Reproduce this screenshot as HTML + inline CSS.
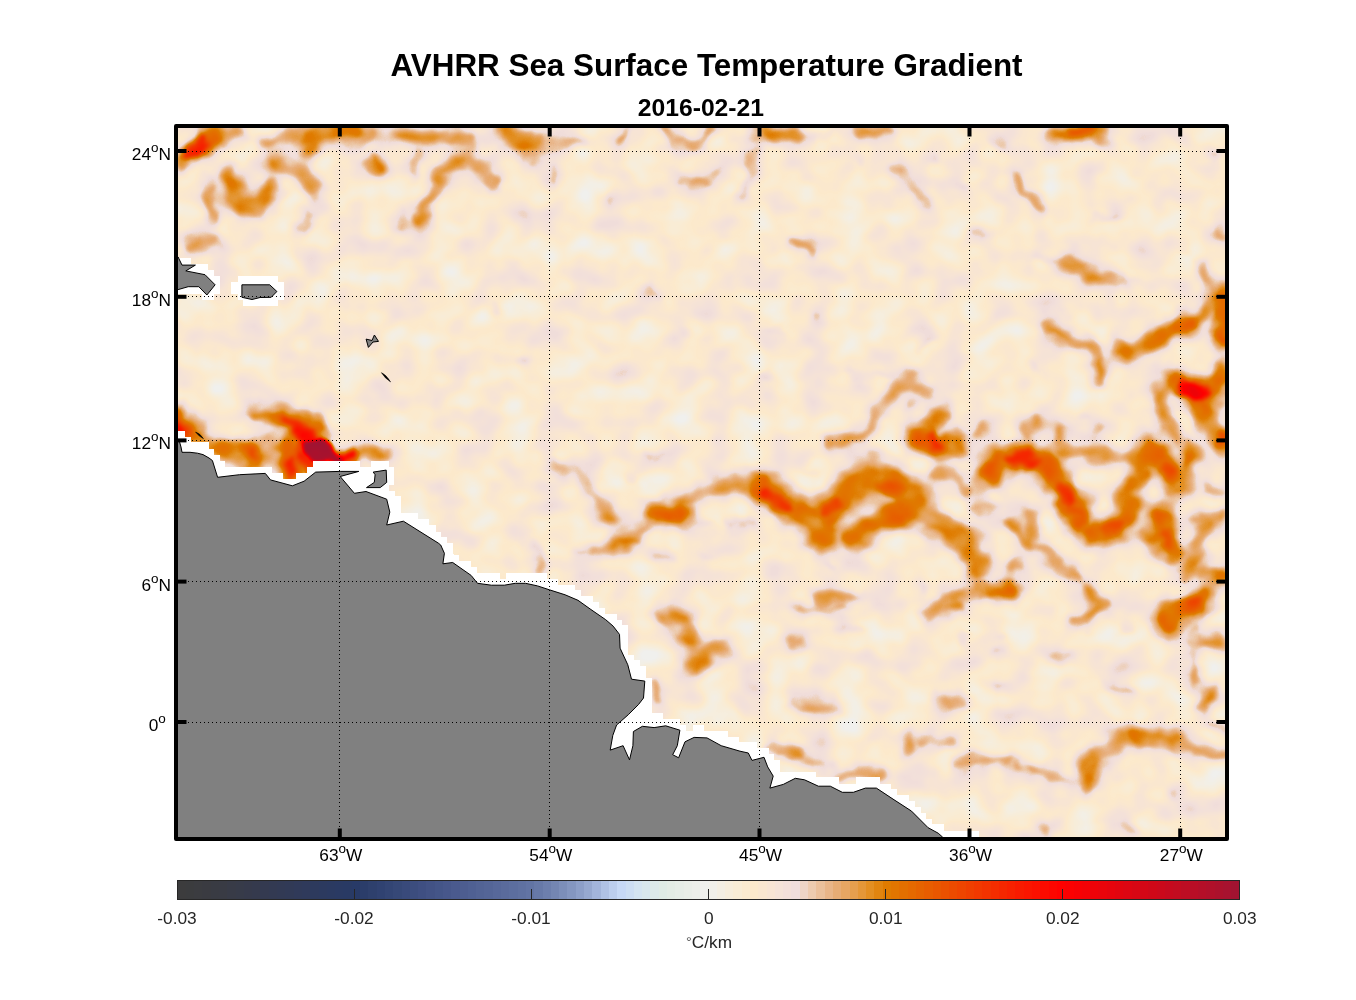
<!DOCTYPE html>
<html lang="en">
<head>
<meta charset="utf-8">
<title>AVHRR Sea Surface Temperature Gradient</title>
<style>
html,body{margin:0;padding:0;background:#fff;}
body{width:1356px;height:1000px;overflow:hidden;position:relative;font-family:"Liberation Sans",Arial,Helvetica,sans-serif;}
svg{position:absolute;left:0;top:0;display:block;}
svg.txt{will-change:transform;}
text{font-family:"Liberation Sans",Arial,Helvetica,sans-serif;}
</style>
</head>
<body>
<svg width="1356" height="1000" viewBox="0 0 1356 1000">
<defs>
<clipPath id="mapclip"><rect x="176" y="126" width="1051" height="713"/></clipPath>
<filter id="bs" filterUnits="userSpaceOnUse" x="150" y="100" width="1104" height="766" color-interpolation-filters="sRGB"><feGaussianBlur stdDeviation="1.5"/></filter>
<filter id="bm" filterUnits="userSpaceOnUse" x="150" y="100" width="1104" height="766" color-interpolation-filters="sRGB"><feGaussianBlur stdDeviation="2.8"/></filter>
<filter id="bl" filterUnits="userSpaceOnUse" x="150" y="100" width="1104" height="766" color-interpolation-filters="sRGB"><feGaussianBlur stdDeviation="5.0"/></filter>
<filter id="cmap" filterUnits="userSpaceOnUse" x="170" y="120" width="1064" height="726" color-interpolation-filters="sRGB">
<feTurbulence type="fractalNoise" baseFrequency="0.03 0.034" numOctaves="2" seed="11" result="n"/>
<feColorMatrix in="n" type="matrix" values="0.25 0 0 0 -0.038  0.25 0 0 0 -0.038  0.25 0 0 0 -0.038  0 0 0 0 1" result="n2"/>
<feTurbulence type="fractalNoise" baseFrequency="0.045 0.05" numOctaves="2" seed="5" result="d"/>
<feDisplacementMap in="SourceGraphic" in2="d" scale="14" xChannelSelector="R" yChannelSelector="G" result="disp0"/>
<feGaussianBlur in="disp0" stdDeviation="1" result="disp"/>
<feComposite in="disp" in2="n2" operator="arithmetic" k1="0" k2="1" k3="1" k4="0" result="sum"/>
<feComponentTransfer in="sum">
<feFuncR type="table" tableValues="0.9412 0.9526 0.9641 0.9743 0.9837 0.9912 0.9818 0.9724 0.9620 0.9509 0.9403 0.9329 0.9255 0.9176 0.9098 0.9059 0.9020 0.8961 0.8902 0.8843 0.8784 0.8847 0.8910 0.8973 0.9035 0.9098 0.9161 0.9224 0.9286 0.9349 0.9412 0.9475 0.9537 0.9600 0.9663 0.9725 0.9780 0.9835 0.9890 0.9945 1.0000 0.9820 0.9639 0.9459 0.9278 0.9098 0.8910 0.8722 0.8533 0.8345 0.8157 0.7969 0.7780 0.7592 0.7404 0.7216 0.7027 0.6839 0.6651 0.6463 0.6275"/>
<feFuncG type="table" tableValues="0.9412 0.9379 0.9346 0.9296 0.9233 0.9167 0.9073 0.8979 0.8884 0.8789 0.8657 0.8250 0.7843 0.7373 0.6902 0.6627 0.6353 0.6039 0.5725 0.5294 0.4863 0.4612 0.4361 0.4110 0.3859 0.3608 0.3357 0.3106 0.2855 0.2604 0.2353 0.2102 0.1851 0.1600 0.1349 0.1098 0.0878 0.0659 0.0439 0.0220 0.0000 0.0031 0.0063 0.0094 0.0125 0.0157 0.0188 0.0220 0.0251 0.0282 0.0314 0.0361 0.0408 0.0455 0.0502 0.0549 0.0596 0.0643 0.0690 0.0737 0.0784"/>
<feFuncB type="table" tableValues="0.9333 0.9039 0.8745 0.8467 0.8201 0.7978 0.8151 0.8323 0.8459 0.8569 0.8549 0.7569 0.6588 0.5804 0.5020 0.4235 0.3451 0.2510 0.1569 0.0784 0.0000 0.0000 0.0000 0.0000 0.0000 0.0000 0.0000 0.0000 0.0000 0.0000 0.0000 0.0000 0.0000 0.0000 0.0000 0.0000 0.0000 0.0000 0.0000 0.0000 0.0000 0.0094 0.0188 0.0282 0.0376 0.0471 0.0565 0.0659 0.0753 0.0847 0.0941 0.1051 0.1161 0.1271 0.1380 0.1490 0.1584 0.1678 0.1773 0.1867 0.1961"/>
</feComponentTransfer>
</filter>
</defs>

<!-- SST gradient field -->
<g clip-path="url(#mapclip)">
<g filter="url(#cmap)">
<g fill="none" stroke-linecap="round" stroke-linejoin="round" style="isolation:isolate">
<rect x="170" y="120" width="1064" height="726" fill="#000"/>
<g filter="url(#bl)" stroke="#0f0f0f" style="mix-blend-mode:lighten"><polyline points="402.2,220.5 403.4,227.0" stroke-width="12.1"/>
<polyline points="651.5,287.6 656.6,297.9" stroke-width="13.5"/>
<polyline points="814.1,314.7 815.4,317.3" stroke-width="12.1"/>
<polyline points="767.6,332.8 783.1,328.9" stroke-width="10.8"/>
<polyline points="682.5,330.2 692.8,334.1" stroke-width="10.8"/>
<polyline points="608.9,197.3 607.6,202.4" stroke-width="9.4"/>
<polyline points="858.0,158.6 860.6,163.7" stroke-width="10.8"/>
<polyline points="894.4,170.2 908.6,181.8 921.5,194.7" stroke-width="17.5"/>
<polyline points="957.6,185.7 967.9,187.0" stroke-width="10.8"/>
<polyline points="685.0,519.9 710.9,525.0" stroke-width="14.8"/>
<polyline points="765.1,372.7 770.2,376.6" stroke-width="17.5"/>
<polyline points="628.3,479.9 638.6,483.7" stroke-width="10.8"/>
<polyline points="643.7,451.5 659.2,454.8" stroke-width="10.8"/>
<polyline points="808.9,470.8 819.3,472.1" stroke-width="9.4"/>
<polyline points="703.1,555.5 710.9,555.5" stroke-width="9.4"/>
<polyline points="1215.7,494.1 1225.0,486.3" stroke-width="12.1"/>
<polyline points="803.8,762.5 821.9,765.0" stroke-width="12.1"/></g>
<g filter="url(#bl)" stroke="#131313" style="mix-blend-mode:lighten"><polyline points="349.0,142.7 366.7,136.8" stroke-width="14.8"/>
<polyline points="529.9,151.5 537.2,163.3" stroke-width="12.1"/>
<polyline points="403.0,216.4 402.3,223.8" stroke-width="13.5"/>
<polyline points="552.0,169.2 553.5,181.0" stroke-width="9.4"/>
<polyline points="495.1,307.0 493.8,310.9" stroke-width="10.8"/>
<polyline points="518.3,359.9 525.0,361.2" stroke-width="10.8"/>
<polyline points="525.0,156.0 535.3,153.4" stroke-width="13.5"/>
<polyline points="553.4,144.4 581.8,140.5" stroke-width="14.8"/>
<polyline points="619.2,140.5 628.3,130.2" stroke-width="13.5"/>
<polyline points="798.6,136.6 829.6,135.3" stroke-width="13.5"/>
<polyline points="705.7,181.8 718.6,171.5" stroke-width="9.4"/>
<polyline points="753.4,153.4 752.2,174.0 741.8,194.7" stroke-width="16.1"/>
<polyline points="988.6,141.8 1004.1,145.7" stroke-width="12.1"/>
<polyline points="931.8,153.4 937.0,161.1" stroke-width="12.1"/>
<polyline points="921.5,197.3 929.2,201.1" stroke-width="14.8"/>
<polyline points="973.1,230.8 983.4,233.4" stroke-width="14.8"/>
<polyline points="1094.4,215.3 1115.1,219.2" stroke-width="12.1"/>
<polyline points="921.5,347.0 930.5,338.0" stroke-width="12.1"/>
<polyline points="1208.0,154.7 1213.2,158.6" stroke-width="13.5"/>
<polyline points="1036.8,256.8 1050.1,260.5 1064.9,259.7" stroke-width="9.4"/>
<polyline points="1112.1,289.2 1110.6,301.0" stroke-width="9.4"/>
<polyline points="1184.3,250.9 1193.2,251.6" stroke-width="8.1"/>
<polyline points="1064.9,317.3 1069.3,317.6" stroke-width="8.1"/>
<polyline points="1030.9,367.4 1036.8,371.8" stroke-width="9.4"/>
<polyline points="848.6,372.4 864.9,376.8 875.2,373.8 892.9,375.3" stroke-width="9.4"/>
<polyline points="909.1,400.4 916.5,404.1" stroke-width="10.8"/>
<polyline points="872.2,456.4 889.9,455.3 907.6,465.3" stroke-width="10.8"/>
<polyline points="1097.3,367.9 1098.8,382.7" stroke-width="12.1"/>
<polyline points="1036.8,416.6 1033.9,428.4" stroke-width="14.8"/>
<polyline points="1081.1,414.9 1088.5,414.0" stroke-width="9.4"/>
<polyline points="1098.8,429.9 1092.9,435.8" stroke-width="10.8"/>
<polyline points="1219.7,409.2 1224.9,403.3" stroke-width="10.8"/>
<polyline points="981.4,572.8 979.9,581.7" stroke-width="12.1"/>
<polyline points="839.8,627.4 851.6,628.9 861.9,631.1" stroke-width="10.8"/>
<polyline points="963.7,637.7 969.6,633.3" stroke-width="10.8"/>
<polyline points="999.1,635.5 1002.0,637.0" stroke-width="9.4"/>
<polyline points="1119.4,627.4 1126.8,628.2" stroke-width="10.8"/>
<polyline points="1193.2,629.6 1200.6,628.2" stroke-width="9.4"/>
<polyline points="726.3,523.0 752.2,521.2" stroke-width="16.1"/>
<polyline points="532.7,543.1 539.2,556.0 540.5,568.9" stroke-width="14.8"/>
<polyline points="656.6,556.0 669.6,556.5" stroke-width="12.1"/>
<polyline points="571.5,549.6 589.5,549.6" stroke-width="9.4"/>
<polyline points="827.0,563.8 834.8,568.9" stroke-width="10.8"/>
<polyline points="918.9,584.4 921.5,592.2" stroke-width="9.4"/>
<polyline points="790.9,646.3 801.2,642.4" stroke-width="13.5"/>
<polyline points="842.5,628.2 858.0,629.5" stroke-width="12.1"/>
<polyline points="962.8,638.6 969.2,634.7" stroke-width="10.8"/>
<polyline points="993.7,654.0 1001.5,648.9" stroke-width="9.4"/>
<polyline points="1050.5,656.6 1060.9,660.5 1073.8,654.0" stroke-width="9.4"/>
<polyline points="1107.3,685.0 1130.5,688.9" stroke-width="13.5"/>
<polyline points="1120.2,626.9 1130.5,629.5" stroke-width="12.1"/>
<polyline points="908.6,731.5 906.5,749.6" stroke-width="13.5"/>
<polyline points="924.0,741.3 952.4,739.2" stroke-width="14.8"/>
<polyline points="1014.4,759.4 1019.6,767.6" stroke-width="10.8"/>
<polyline points="1040.2,825.7 1050.5,827.0 1046.7,834.7" stroke-width="9.4"/>
<polyline points="1122.8,824.4 1133.1,829.1" stroke-width="8.1"/>
<polyline points="1171.9,794.7 1177.0,795.5" stroke-width="9.4"/>
<polyline points="875.0,772.8 882.7,776.7" stroke-width="10.8"/>
<polyline points="819.3,774.2 826.7,771.5" stroke-width="10.8"/></g>
<g filter="url(#bl)" stroke="#161616" style="mix-blend-mode:lighten"><polyline points="219.2,138.3 231.0,133.8 241.4,130.9" stroke-width="18.9"/>
<polyline points="208.9,184.0 207.4,207.6 214.8,226.8" stroke-width="16.1"/>
<polyline points="301.8,228.2 307.7,219.4" stroke-width="14.8"/>
<polyline points="549.0,142.7 575.0,141.2" stroke-width="14.8"/>
<polyline points="417.8,154.5 416.3,170.7" stroke-width="18.9"/>
<polyline points="525.0,137.9 537.9,143.1" stroke-width="18.9"/>
<polyline points="679.9,177.9 695.4,183.1 705.7,183.1" stroke-width="14.8"/>
<polyline points="1220.9,228.3 1223.5,238.6" stroke-width="13.5"/>
<polyline points="1200.6,264.2 1205.0,274.5 1212.4,287.8" stroke-width="13.5"/>
<polyline points="910.6,382.7 919.4,388.6 929.8,394.5" stroke-width="17.5"/>
<polyline points="975.5,433.1 982.9,425.8" stroke-width="12.1"/>
<polyline points="931.2,474.1 948.9,471.5 960.7,480.8 963.7,494.8" stroke-width="14.8"/>
<polyline points="1059.0,426.9 1061.9,447.6" stroke-width="13.5"/>
<polyline points="1205.0,487.4 1219.7,491.8" stroke-width="13.5"/>
<polyline points="975.5,507.9 990.2,507.9" stroke-width="13.5"/>
<polyline points="1098.8,609.7 1087.0,617.8 1078.1,623.7" stroke-width="16.1"/>
<polyline points="270.0,437.4 259.8,445.9" stroke-width="16.1"/>
<polyline points="553.4,463.1 574.0,468.3 592.1,486.3 605.0,509.6 607.6,517.3" stroke-width="20.2"/>
<polyline points="793.5,704.4 816.7,707.0 837.3,709.5" stroke-width="16.1"/>
<polyline points="935.7,699.2 949.9,702.6 964.1,701.8" stroke-width="17.5"/>
<polyline points="993.7,688.9 1001.5,688.1" stroke-width="9.4"/>
<polyline points="1032.5,767.6 1055.7,775.9 1073.8,783.1" stroke-width="14.8"/>
<polyline points="1171.9,739.7 1195.1,749.6 1225.0,754.7" stroke-width="16.1"/>
<polyline points="1191.2,647.6 1210.6,643.7 1225.0,643.2" stroke-width="10.8"/>
<polyline points="907.8,733.7 908.1,750.3" stroke-width="13.5"/>
<polyline points="935.4,741.1 950.2,740.7" stroke-width="14.8"/></g>
<g filter="url(#bl)" stroke="#1a1a1a" style="mix-blend-mode:lighten"><polyline points="266.4,144.9 287.1,135.6 304.8,130.9" stroke-width="21.6"/>
<polyline points="276.8,165.6 294.5,167.8 306.3,179.6 315.1,189.9" stroke-width="27.0"/>
<polyline points="281.2,158.9 293.0,161.9" stroke-width="10.0"/>
<polyline points="365.3,164.8 375.0,169.2" stroke-width="21.6"/>
<polyline points="375.0,160.4 380.9,169.2" stroke-width="20.2"/>
<polyline points="664.4,128.9 676.0,140.5 690.2,144.4 703.1,140.5 707.0,128.9" stroke-width="16.1"/>
<polyline points="858.0,130.2 875.0,132.7" stroke-width="13.5"/>
<polyline points="792.2,242.4 802.5,247.6 808.9,254.1" stroke-width="16.1"/>
<polyline points="875.0,132.7 887.9,129.6" stroke-width="14.8"/>
<polyline points="1014.4,177.9 1027.3,192.1 1042.8,207.6" stroke-width="17.5"/>
<polyline points="1044.2,324.6 1057.5,333.5 1075.2,339.4 1089.9,345.3" stroke-width="16.1"/>
<polyline points="1091.4,346.8 1097.3,357.1 1098.8,371.8 1097.3,385.0" stroke-width="16.1"/>
<polyline points="1218.3,363.0 1225.6,357.1" stroke-width="10.8"/>
<polyline points="828.0,442.0 842.7,440.2 861.9,435.8 876.7,421.0 887.0,399.7 897.3,384.9 909.9,379.0" stroke-width="18.2"/>
<polyline points="937.1,453.5 941.6,460.9 950.4,455.7 960.7,447.6" stroke-width="14.8"/>
<polyline points="1024.9,424.0 1028.0,435.8" stroke-width="12.1"/>
<polyline points="1018.3,561.0 1012.4,569.9" stroke-width="14.8"/>
<polyline points="1032.4,543.3 1045.7,547.0 1057.5,561.0 1066.3,572.8 1076.7,580.2" stroke-width="16.1"/>
<polyline points="1087.0,591.3 1098.8,601.6 1105.4,606.0" stroke-width="17.5"/>
<polyline points="1197.6,519.7 1212.4,516.8 1224.9,513.8" stroke-width="16.1"/>
<polyline points="225.9,456.1 242.8,461.1" stroke-width="16.1"/>
<polyline points="594.7,551.4 612.8,544.4 633.4,536.7 646.3,527.6 659.2,516.0" stroke-width="17.5"/>
<polyline points="679.9,505.7 703.1,492.8 726.3,483.7 744.4,480.6 757.3,483.7" stroke-width="17.5"/>
<polyline points="654.1,685.0 657.9,701.8" stroke-width="14.8"/>
<polyline points="798.6,608.9 821.9,608.1 845.1,607.1" stroke-width="14.8"/>
<polyline points="770.2,745.7 785.7,750.1 798.6,754.7" stroke-width="16.1"/>
<polyline points="834.8,774.1 855.4,774.1 875.0,770.7" stroke-width="16.1"/>
<polyline points="926.6,612.2 944.7,608.1 961.5,607.1" stroke-width="14.8"/>
<polyline points="1075.1,621.8 1089.2,612.7 1107.3,605.0" stroke-width="16.1"/>
<polyline points="955.0,763.0 983.4,760.9 1009.2,757.8" stroke-width="14.8"/>
<polyline points="1191.2,654.0 1193.8,672.1 1196.4,682.4" stroke-width="14.8"/>
<polyline points="1200.2,710.8 1210.6,695.3 1214.4,687.6" stroke-width="16.1"/>
<polyline points="1208.0,723.7 1225.0,729.4" stroke-width="14.8"/>
<polyline points="771.3,748.4 786.1,750.6 800.8,754.0" stroke-width="14.8"/>
<polyline points="839.6,776.5 861.7,773.3 880.1,772.8" stroke-width="14.8"/>
<polyline points="955.7,762.8 972.3,761.3 990.0,761.3" stroke-width="14.8"/></g>
<g filter="url(#bl)" stroke="#1d1d1d" style="mix-blend-mode:lighten"><polyline points="186.8,249.6 200.1,243.0 212.6,238.6" stroke-width="21.6"/>
<polyline points="404.5,133.8 422.2,138.0 441.4,136.8 457.6,135.6 469.4,139.7" stroke-width="24.2"/>
<polyline points="438.4,170.7 451.7,164.8 469.4,159.2 481.2,166.3 487.1,176.6 495.2,184.0" stroke-width="22.9"/>
<polyline points="439.9,173.7 434.0,188.4 427.4,201.7 422.2,213.5 417.8,222.3" stroke-width="18.9"/>
<polyline points="1066.3,260.5 1076.7,268.6 1089.9,276.3 1107.6,278.2 1123.9,280.4" stroke-width="24.7"/>
<polyline points="975.5,487.4 984.3,497.7" stroke-width="8.0"/>
<polyline points="1169.6,390.1 1161.5,396.0 1163.7,412.2 1172.5,426.9 1177.0,438.7" stroke-width="24.7"/>
<polyline points="1061.9,451.3 1087.0,452.0 1101.7,452.0 1119.4,457.9 1134.2,459.4" stroke-width="24.7"/>
<polyline points="929.8,614.1 940.1,603.8 953.4,595.3 966.6,590.3" stroke-width="16.8"/>
<polyline points="1009.4,522.7 1018.3,531.5 1025.6,543.3" stroke-width="21.3"/>
<polyline points="1029.5,513.8 1033.9,530.1 1030.9,543.3" stroke-width="21.3"/>
<polyline points="1184.3,575.8 1193.2,564.0 1199.1,549.2 1200.6,534.5 1205.0,521.2" stroke-width="24.7"/>
<polyline points="1202.0,574.3 1219.7,576.1 1224.9,574.3" stroke-width="21.3"/>
<polyline points="1202.0,645.0 1219.7,642.2" stroke-width="19.6"/>
<polyline points="816.7,600.4 834.8,596.0 852.8,594.7" stroke-width="23.0"/>
<polyline points="978.3,509.6 986.0,499.2" stroke-width="10.0"/>
<polyline points="665.7,621.0 679.9,617.4 686.3,630.8 694.1,643.7" stroke-width="23.0"/>
<polyline points="721.2,645.0 709.6,650.2 703.1,657.9 694.1,664.9" stroke-width="26.4"/></g>
<g filter="url(#bm)" stroke="#1d1d1d" style="mix-blend-mode:lighten"><polyline points="402.2,220.5 403.4,227.0" stroke-width="4.8"/>
<polyline points="651.5,287.6 656.6,297.9" stroke-width="5.6"/>
<polyline points="814.1,314.7 815.4,317.3" stroke-width="4.8"/>
<polyline points="767.6,332.8 783.1,328.9" stroke-width="4.0"/>
<polyline points="682.5,330.2 692.8,334.1" stroke-width="4.0"/>
<polyline points="608.9,197.3 607.6,202.4" stroke-width="3.2"/>
<polyline points="858.0,158.6 860.6,163.7" stroke-width="4.0"/>
<polyline points="894.4,170.2 908.6,181.8 921.5,194.7" stroke-width="8.0"/>
<polyline points="957.6,185.7 967.9,187.0" stroke-width="4.0"/>
<polyline points="685.0,519.9 710.9,525.0" stroke-width="6.4"/>
<polyline points="765.1,372.7 770.2,376.6" stroke-width="8.0"/>
<polyline points="628.3,479.9 638.6,483.7" stroke-width="4.0"/>
<polyline points="643.7,451.5 659.2,454.8" stroke-width="4.0"/>
<polyline points="808.9,470.8 819.3,472.1" stroke-width="3.2"/>
<polyline points="703.1,555.5 710.9,555.5" stroke-width="3.2"/>
<polyline points="1215.7,494.1 1225.0,486.3" stroke-width="4.8"/>
<polyline points="803.8,762.5 821.9,765.0" stroke-width="4.8"/></g>
<g filter="url(#bl)" stroke="#202020" style="mix-blend-mode:lighten"><polyline points="324.0,130.2 341.7,129.1" stroke-width="16.2"/>
<polyline points="229.6,177.4 233.3,193.6 242.1,204.6 253.9,207.6 264.2,198.0 273.1,186.9" stroke-width="28.1"/>
<polyline points="761.2,130.2 778.0,135.3 798.6,136.6" stroke-width="24.7"/>
<polyline points="1053.1,134.0 1078.9,132.2 1102.2,131.5" stroke-width="26.4"/>
<polyline points="1118.0,348.2 1131.2,353.4 1146.0,346.8 1160.7,336.4 1172.5,325.4 1190.2,324.6 1205.0,314.3 1213.8,301.0 1219.7,290.7" stroke-width="26.4"/>
<polyline points="1187.3,444.6 1191.7,456.4 1187.3,471.2 1181.4,483.0" stroke-width="21.3"/>
<polyline points="1141.6,472.7 1134.2,483.0 1128.3,497.7 1122.4,505.0" stroke-width="26.4"/>
<polyline points="922.4,513.1 946.0,525.6 960.7,537.4 969.6,547.8 977.0,558.1 979.9,569.9" stroke-width="32.7"/>
<polyline points="1144.5,534.5 1160.7,538.2" stroke-width="23.0"/>
<polyline points="179.2,418.7 193.7,433.2 214.0,445.9 234.4,451.0 249.6,455.2" stroke-width="26.4"/>
<polyline points="612.8,543.6 633.4,537.4" stroke-width="17.9"/>
<polyline points="674.7,616.6 683.8,619.2" stroke-width="23.2"/>
<polyline points="1084.6,785.7 1086.2,766.3 1099.6,752.7 1120.2,741.8 1143.5,736.6 1171.9,739.7" stroke-width="24.7"/></g>
<g filter="url(#bm)" stroke="#202020" style="mix-blend-mode:lighten"><polyline points="349.0,142.7 366.7,136.8" stroke-width="6.4"/>
<polyline points="552.0,169.2 553.5,181.0" stroke-width="3.2"/>
<polyline points="495.1,307.0 493.8,310.9" stroke-width="4.0"/>
<polyline points="518.3,359.9 525.0,361.2" stroke-width="4.0"/>
<polyline points="525.0,156.0 535.3,153.4" stroke-width="5.6"/>
<polyline points="798.6,136.6 829.6,135.3" stroke-width="5.6"/>
<polyline points="988.6,141.8 1004.1,145.7" stroke-width="4.8"/>
<polyline points="931.8,153.4 937.0,161.1" stroke-width="4.8"/>
<polyline points="1094.4,215.3 1115.1,219.2" stroke-width="4.8"/>
<polyline points="1208.0,154.7 1213.2,158.6" stroke-width="5.6"/>
<polyline points="1036.8,256.8 1050.1,260.5 1064.9,259.7" stroke-width="3.2"/>
<polyline points="1112.1,289.2 1110.6,301.0" stroke-width="3.2"/>
<polyline points="1184.3,250.9 1193.2,251.6" stroke-width="2.4"/>
<polyline points="1064.9,317.3 1069.3,317.6" stroke-width="2.4"/>
<polyline points="1030.9,367.4 1036.8,371.8" stroke-width="3.2"/>
<polyline points="848.6,372.4 864.9,376.8 875.2,373.8 892.9,375.3" stroke-width="3.2"/>
<polyline points="872.2,456.4 889.9,455.3 907.6,465.3" stroke-width="4.0"/>
<polyline points="1219.7,409.2 1224.9,403.3" stroke-width="4.0"/>
<polyline points="839.8,627.4 851.6,628.9 861.9,631.1" stroke-width="4.0"/>
<polyline points="999.1,635.5 1002.0,637.0" stroke-width="3.2"/>
<polyline points="1119.4,627.4 1126.8,628.2" stroke-width="4.0"/>
<polyline points="1193.2,629.6 1200.6,628.2" stroke-width="3.2"/>
<polyline points="656.6,556.0 669.6,556.5" stroke-width="4.8"/>
<polyline points="571.5,549.6 589.5,549.6" stroke-width="3.2"/>
<polyline points="827.0,563.8 834.8,568.9" stroke-width="4.0"/>
<polyline points="842.5,628.2 858.0,629.5" stroke-width="4.8"/>
<polyline points="962.8,638.6 969.2,634.7" stroke-width="4.0"/>
<polyline points="993.7,654.0 1001.5,648.9" stroke-width="3.2"/>
<polyline points="1050.5,656.6 1060.9,660.5 1073.8,654.0" stroke-width="3.2"/>
<polyline points="1107.3,685.0 1130.5,688.9" stroke-width="5.6"/>
<polyline points="1120.2,626.9 1130.5,629.5" stroke-width="4.8"/>
<polyline points="1122.8,824.4 1133.1,829.1" stroke-width="2.4"/>
<polyline points="1171.9,794.7 1177.0,795.5" stroke-width="3.2"/>
<polyline points="819.3,774.2 826.7,771.5" stroke-width="4.0"/></g>
<g filter="url(#bl)" stroke="#242424" style="mix-blend-mode:lighten"><polyline points="307.7,147.1 316.6,135.3 329.9,130.2 352.0,130.2" stroke-width="30.8"/>
<polyline points="504.8,133.1 516.6,138.3 529.9,140.5" stroke-width="32.7"/>
<polyline points="923.9,427.7 932.7,424.0 943.0,414.4" stroke-width="25.1"/>
<polyline points="1197.6,401.9 1205.0,424.0 1219.7,434.3 1224.9,441.7" stroke-width="28.9"/>
<polyline points="1134.2,459.4 1144.5,453.5 1160.7,459.4 1169.6,474.1 1175.5,483.0" stroke-width="34.6"/>
<polyline points="872.2,478.6 889.9,481.5 904.7,491.8 916.5,505.0" stroke-width="40.3"/>
<polyline points="850.1,538.9 861.9,530.1 876.7,521.2 894.4,513.8 913.5,510.2" stroke-width="36.5"/>
<polyline points="978.4,587.9 994.7,590.5 1009.4,590.3" stroke-width="27.0"/>
<polyline points="1094.4,535.2 1113.5,527.1 1128.3,515.3 1131.2,505.0" stroke-width="34.6"/>
<polyline points="1160.7,513.8 1163.7,527.1 1166.6,540.4 1174.0,555.1" stroke-width="32.7"/>
<polyline points="1168.1,621.5 1169.6,611.2 1182.9,606.8 1193.2,601.6 1205.0,595.0" stroke-width="30.8"/>
<polyline points="337.8,455.7 354.8,454.4 370.0,454.7 381.1,456.4" stroke-width="21.3"/>
<polyline points="757.3,486.3 775.4,497.9 796.0,510.8 814.1,519.9 821.9,535.4" stroke-width="40.3"/>
<polyline points="825.7,519.9 833.5,505.7 847.7,491.0 868.3,481.7" stroke-width="40.3"/>
<polyline points="1086.7,772.8 1094.4,757.3" stroke-width="25.1"/></g>
<g filter="url(#bm)" stroke="#242424" style="mix-blend-mode:lighten"><polyline points="219.2,138.3 231.0,133.8 241.4,130.9" stroke-width="8.8"/>
<polyline points="529.9,151.5 537.2,163.3" stroke-width="4.8"/>
<polyline points="403.0,216.4 402.3,223.8" stroke-width="5.6"/>
<polyline points="553.4,144.4 581.8,140.5" stroke-width="6.4"/>
<polyline points="619.2,140.5 628.3,130.2" stroke-width="5.6"/>
<polyline points="705.7,181.8 718.6,171.5" stroke-width="3.2"/>
<polyline points="753.4,153.4 752.2,174.0 741.8,194.7" stroke-width="7.2"/>
<polyline points="921.5,197.3 929.2,201.1" stroke-width="6.4"/>
<polyline points="973.1,230.8 983.4,233.4" stroke-width="6.4"/>
<polyline points="921.5,347.0 930.5,338.0" stroke-width="4.8"/>
<polyline points="909.1,400.4 916.5,404.1" stroke-width="4.0"/>
<polyline points="1097.3,367.9 1098.8,382.7" stroke-width="4.8"/>
<polyline points="1036.8,416.6 1033.9,428.4" stroke-width="6.4"/>
<polyline points="1081.1,414.9 1088.5,414.0" stroke-width="3.2"/>
<polyline points="1098.8,429.9 1092.9,435.8" stroke-width="4.0"/>
<polyline points="981.4,572.8 979.9,581.7" stroke-width="4.8"/>
<polyline points="963.7,637.7 969.6,633.3" stroke-width="4.0"/>
<polyline points="553.4,463.1 574.0,468.3 592.1,486.3 605.0,509.6 607.6,517.3" stroke-width="9.6"/>
<polyline points="726.3,523.0 752.2,521.2" stroke-width="7.2"/>
<polyline points="532.7,543.1 539.2,556.0 540.5,568.9" stroke-width="6.4"/>
<polyline points="918.9,584.4 921.5,592.2" stroke-width="3.2"/>
<polyline points="790.9,646.3 801.2,642.4" stroke-width="5.6"/>
<polyline points="793.5,704.4 816.7,707.0 837.3,709.5" stroke-width="7.2"/>
<polyline points="935.7,699.2 949.9,702.6 964.1,701.8" stroke-width="8.0"/>
<polyline points="908.6,731.5 906.5,749.6" stroke-width="5.6"/>
<polyline points="924.0,741.3 952.4,739.2" stroke-width="6.4"/>
<polyline points="1014.4,759.4 1019.6,767.6" stroke-width="4.0"/>
<polyline points="1032.5,767.6 1055.7,775.9 1073.8,783.1" stroke-width="6.4"/>
<polyline points="1040.2,825.7 1050.5,827.0 1046.7,834.7" stroke-width="3.2"/>
<polyline points="875.0,772.8 882.7,776.7" stroke-width="4.0"/>
<polyline points="907.8,733.7 908.1,750.3" stroke-width="5.6"/></g>
<g filter="url(#bl)" stroke="#272727" style="mix-blend-mode:lighten"><polyline points="919.4,438.7 935.7,446.1 954.8,444.6" stroke-width="34.6"/>
<polyline points="991.2,474.7 1004.1,459.2 1024.7,456.6" stroke-width="36.5"/>
<polyline points="1028.0,456.4 1042.7,459.4 1053.1,471.2 1061.9,487.4 1069.3,497.7 1076.7,505.0" stroke-width="34.6"/>
<polyline points="1175.5,380.5 1191.7,391.5 1207.9,385.6 1219.7,373.8" stroke-width="34.6"/>
<polyline points="828.0,521.2 833.2,510.9" stroke-width="32.7"/>
<polyline points="1064.9,505.0 1075.2,510.9 1079.6,522.7" stroke-width="32.7"/>
<polyline points="249.6,451.0 256.4,456.1 254.7,462.8" stroke-width="30.8"/>
<polyline points="254.7,413.3 270.0,416.7 290.3,418.7 305.6,421.3 315.8,429.8" stroke-width="23.2"/>
<polyline points="654.1,510.8 677.3,514.2" stroke-width="28.9"/>
<polyline points="1166.7,621.8 1182.2,608.9 1200.2,605.0" stroke-width="28.9"/>
<polyline points="1133.1,737.2 1156.4,737.2" stroke-width="21.3"/></g>
<g filter="url(#bm)" stroke="#272727" style="mix-blend-mode:lighten"><polyline points="301.8,228.2 307.7,219.4" stroke-width="6.4"/>
<polyline points="549.0,142.7 575.0,141.2" stroke-width="6.4"/>
<polyline points="525.0,137.9 537.9,143.1" stroke-width="8.8"/>
<polyline points="1220.9,228.3 1223.5,238.6" stroke-width="5.6"/>
<polyline points="1200.6,264.2 1205.0,274.5 1212.4,287.8" stroke-width="5.6"/>
<polyline points="910.6,382.7 919.4,388.6 929.8,394.5" stroke-width="8.0"/>
<polyline points="975.5,433.1 982.9,425.8" stroke-width="4.8"/>
<polyline points="1059.0,426.9 1061.9,447.6" stroke-width="5.6"/>
<polyline points="1205.0,487.4 1219.7,491.8" stroke-width="5.6"/>
<polyline points="975.5,507.9 990.2,507.9" stroke-width="5.6"/>
<polyline points="270.0,437.4 259.8,445.9" stroke-width="7.2"/>
<polyline points="993.7,688.9 1001.5,688.1" stroke-width="3.2"/>
<polyline points="1171.9,739.7 1195.1,749.6 1225.0,754.7" stroke-width="7.2"/>
<polyline points="1191.2,647.6 1210.6,643.7 1225.0,643.2" stroke-width="4.0"/>
<polyline points="935.4,741.1 950.2,740.7" stroke-width="6.4"/></g>
<g filter="url(#bl)" stroke="#2b2b2b" style="mix-blend-mode:lighten"><polyline points="285.2,445.9 289.5,461.1 290.3,476.4" stroke-width="32.7"/></g>
<g filter="url(#bm)" stroke="#2b2b2b" style="mix-blend-mode:lighten"><polyline points="208.9,184.0 207.4,207.6 214.8,226.8" stroke-width="7.2"/>
<polyline points="417.8,154.5 416.3,170.7" stroke-width="8.8"/>
<polyline points="664.4,128.9 676.0,140.5 690.2,144.4 703.1,140.5 707.0,128.9" stroke-width="7.2"/>
<polyline points="858.0,130.2 875.0,132.7" stroke-width="5.6"/>
<polyline points="679.9,177.9 695.4,183.1 705.7,183.1" stroke-width="6.4"/>
<polyline points="792.2,242.4 802.5,247.6 808.9,254.1" stroke-width="7.2"/>
<polyline points="875.0,132.7 887.9,129.6" stroke-width="6.4"/>
<polyline points="1044.2,324.6 1057.5,333.5 1075.2,339.4 1089.9,345.3" stroke-width="7.2"/>
<polyline points="1218.3,363.0 1225.6,357.1" stroke-width="4.0"/>
<polyline points="931.2,474.1 948.9,471.5 960.7,480.8 963.7,494.8" stroke-width="6.4"/>
<polyline points="1024.9,424.0 1028.0,435.8" stroke-width="4.8"/>
<polyline points="1018.3,561.0 1012.4,569.9" stroke-width="6.4"/>
<polyline points="1032.4,543.3 1045.7,547.0 1057.5,561.0 1066.3,572.8 1076.7,580.2" stroke-width="7.2"/>
<polyline points="1098.8,609.7 1087.0,617.8 1078.1,623.7" stroke-width="7.2"/>
<polyline points="225.9,456.1 242.8,461.1" stroke-width="7.2"/>
<polyline points="594.7,551.4 612.8,544.4 633.4,536.7 646.3,527.6 659.2,516.0" stroke-width="8.0"/>
<polyline points="679.9,505.7 703.1,492.8 726.3,483.7 744.4,480.6 757.3,483.7" stroke-width="8.0"/>
<polyline points="654.1,685.0 657.9,701.8" stroke-width="6.4"/>
<polyline points="798.6,608.9 821.9,608.1 845.1,607.1" stroke-width="6.4"/>
<polyline points="834.8,774.1 855.4,774.1 875.0,770.7" stroke-width="7.2"/>
<polyline points="926.6,612.2 944.7,608.1 961.5,607.1" stroke-width="6.4"/>
<polyline points="1191.2,654.0 1193.8,672.1 1196.4,682.4" stroke-width="6.4"/>
<polyline points="1208.0,723.7 1225.0,729.4" stroke-width="6.4"/>
<polyline points="839.6,776.5 861.7,773.3 880.1,772.8" stroke-width="6.4"/></g>
<g filter="url(#bl)" stroke="#2e2e2e" style="mix-blend-mode:lighten"><polyline points="1219.7,295.1 1223.4,315.8 1222.0,339.4" stroke-width="25.1"/>
<polyline points="177.5,420.4 185.2,428.9" stroke-width="32.7"/></g>
<g filter="url(#bm)" stroke="#2e2e2e" style="mix-blend-mode:lighten"><polyline points="266.4,144.9 287.1,135.6 304.8,130.9" stroke-width="10.4"/>
<polyline points="276.8,165.6 294.5,167.8 306.3,179.6 315.1,189.9" stroke-width="13.6"/>
<polyline points="365.3,164.8 375.0,169.2" stroke-width="10.4"/>
<polyline points="828.0,442.0 842.7,440.2 861.9,435.8 876.7,421.0 887.0,399.7 897.3,384.9 909.9,379.0" stroke-width="8.4"/>
<polyline points="1087.0,591.3 1098.8,601.6 1105.4,606.0" stroke-width="8.0"/>
<polyline points="770.2,745.7 785.7,750.1 798.6,754.7" stroke-width="7.2"/>
<polyline points="955.0,763.0 983.4,760.9 1009.2,757.8" stroke-width="6.4"/>
<polyline points="1200.2,710.8 1210.6,695.3 1214.4,687.6" stroke-width="7.2"/>
<polyline points="955.7,762.8 972.3,761.3 990.0,761.3" stroke-width="6.4"/></g>
<g filter="url(#bm)" stroke="#313131" style="mix-blend-mode:lighten"><polyline points="186.8,249.6 200.1,243.0 212.6,238.6" stroke-width="10.4"/>
<polyline points="404.5,133.8 422.2,138.0 441.4,136.8 457.6,135.6 469.4,139.7" stroke-width="12.0"/>
<polyline points="375.0,160.4 380.9,169.2" stroke-width="9.6"/>
<polyline points="438.4,170.7 451.7,164.8 469.4,159.2 481.2,166.3 487.1,176.6 495.2,184.0" stroke-width="11.2"/>
<polyline points="439.9,173.7 434.0,188.4 427.4,201.7 422.2,213.5 417.8,222.3" stroke-width="8.8"/>
<polyline points="1014.4,177.9 1027.3,192.1 1042.8,207.6" stroke-width="8.0"/>
<polyline points="1091.4,346.8 1097.3,357.1 1098.8,371.8 1097.3,385.0" stroke-width="7.2"/>
<polyline points="937.1,453.5 941.6,460.9 950.4,455.7 960.7,447.6" stroke-width="6.4"/>
<polyline points="929.8,614.1 940.1,603.8 953.4,595.3 966.6,590.3" stroke-width="7.6"/>
<polyline points="1197.6,519.7 1212.4,516.8 1224.9,513.8" stroke-width="7.2"/>
<polyline points="1075.1,621.8 1089.2,612.7 1107.3,605.0" stroke-width="7.2"/>
<polyline points="771.3,748.4 786.1,750.6 800.8,754.0" stroke-width="6.4"/></g>
<g filter="url(#bm)" stroke="#353535" style="mix-blend-mode:lighten"><polyline points="490.0,181.0 497.4,185.5" stroke-width="11.7"/>
<polyline points="1066.3,260.5 1076.7,268.6 1089.9,276.3 1107.6,278.2 1123.9,280.4" stroke-width="12.1"/>
<polyline points="1169.6,390.1 1161.5,396.0 1163.7,412.2 1172.5,426.9 1177.0,438.7" stroke-width="12.1"/>
<polyline points="1061.9,451.3 1087.0,452.0 1101.7,452.0 1119.4,457.9 1134.2,459.4" stroke-width="12.1"/>
<polyline points="1009.4,522.7 1018.3,531.5 1025.6,543.3" stroke-width="9.9"/>
<polyline points="1029.5,513.8 1033.9,530.1 1030.9,543.3" stroke-width="9.9"/>
<polyline points="1184.3,575.8 1193.2,564.0 1199.1,549.2 1200.6,534.5 1205.0,521.2" stroke-width="12.1"/>
<polyline points="1202.0,574.3 1219.7,576.1 1224.9,574.3" stroke-width="9.9"/>
<polyline points="1202.0,645.0 1219.7,642.2" stroke-width="8.8"/>
<polyline points="816.7,600.4 834.8,596.0 852.8,594.7" stroke-width="11.0"/>
<polyline points="665.7,621.0 679.9,617.4 686.3,630.8 694.1,643.7" stroke-width="11.0"/>
<polyline points="721.2,645.0 709.6,650.2 703.1,657.9 694.1,664.9" stroke-width="13.2"/></g>
<g filter="url(#bl)" stroke="#383838" style="mix-blend-mode:lighten"><polyline points="301.4,429.8 309.0,440.8 315.8,451.0" stroke-width="32.7"/>
<polyline points="303.9,451.0 309.0,466.2" stroke-width="30.8"/></g>
<g filter="url(#bm)" stroke="#383838" style="mix-blend-mode:lighten"><polyline points="1144.5,534.5 1160.7,538.2" stroke-width="11.0"/>
<polyline points="1084.6,785.7 1086.2,766.3 1099.6,752.7 1120.2,741.8 1143.5,736.6 1171.9,739.7" stroke-width="12.1"/></g>
<g filter="url(#bm)" stroke="#3c3c3c" style="mix-blend-mode:lighten"><polyline points="324.0,130.2 341.7,129.1" stroke-width="6.6"/>
<polyline points="229.6,177.4 233.3,193.6 242.1,204.6 253.9,207.6 264.2,198.0 273.1,186.9" stroke-width="14.3"/>
<polyline points="761.2,130.2 778.0,135.3 798.6,136.6" stroke-width="12.1"/>
<polyline points="1053.1,134.0 1078.9,132.2 1102.2,131.5" stroke-width="13.2"/>
<polyline points="1118.0,348.2 1131.2,353.4 1146.0,346.8 1160.7,336.4 1172.5,325.4 1190.2,324.6 1205.0,314.3 1213.8,301.0 1219.7,290.7" stroke-width="13.2"/>
<polyline points="1187.3,444.6 1191.7,456.4 1187.3,471.2 1181.4,483.0" stroke-width="9.9"/>
<polyline points="1141.6,472.7 1134.2,483.0 1128.3,497.7 1122.4,505.0" stroke-width="13.2"/>
<polyline points="922.4,513.1 946.0,525.6 960.7,537.4 969.6,547.8 977.0,558.1 979.9,569.9" stroke-width="18.2"/>
<polyline points="179.2,418.7 193.7,433.2 214.0,445.9 234.4,451.0 249.6,455.2" stroke-width="13.2"/>
<polyline points="612.8,543.6 633.4,537.4" stroke-width="7.7"/>
<polyline points="674.7,616.6 683.8,619.2" stroke-width="11.2"/></g>
<g filter="url(#bm)" stroke="#3f3f3f" style="mix-blend-mode:lighten"><polyline points="307.7,147.1 316.6,135.3 329.9,130.2 352.0,130.2" stroke-width="16.8"/>
<polyline points="504.8,133.1 516.6,138.3 529.9,140.5" stroke-width="18.2"/>
<polyline points="923.9,427.7 932.7,424.0 943.0,414.4" stroke-width="12.6"/>
<polyline points="850.1,538.9 861.9,530.1 876.7,521.2 894.4,513.8 913.5,510.2" stroke-width="21.0"/>
<polyline points="978.4,587.9 994.7,590.5 1009.4,590.3" stroke-width="14.0"/>
<polyline points="825.7,519.9 833.5,505.7 847.7,491.0 868.3,481.7" stroke-width="23.8"/>
<polyline points="1086.7,772.8 1094.4,757.3" stroke-width="12.6"/></g>
<g filter="url(#bl)" stroke="#424242" style="mix-blend-mode:lighten"><polyline points="180.9,161.9 197.1,145.6 216.3,132.4" stroke-width="20.0"/></g>
<g filter="url(#bm)" stroke="#424242" style="mix-blend-mode:lighten"><polyline points="1197.6,401.9 1205.0,424.0 1219.7,434.3 1224.9,441.7" stroke-width="15.4"/>
<polyline points="1134.2,459.4 1144.5,453.5 1160.7,459.4 1169.6,474.1 1175.5,483.0" stroke-width="19.6"/>
<polyline points="872.2,478.6 889.9,481.5 904.7,491.8 916.5,505.0" stroke-width="23.8"/>
<polyline points="1094.4,535.2 1113.5,527.1 1128.3,515.3 1131.2,505.0" stroke-width="19.6"/>
<polyline points="1160.7,513.8 1163.7,527.1 1166.6,540.4 1174.0,555.1" stroke-width="18.2"/>
<polyline points="1168.1,621.5 1169.6,611.2 1182.9,606.8 1193.2,601.6 1205.0,595.0" stroke-width="16.8"/>
<polyline points="337.8,455.7 354.8,454.4 370.0,454.7 381.1,456.4" stroke-width="9.8"/>
<polyline points="757.3,486.3 775.4,497.9 796.0,510.8 814.1,519.9 821.9,535.4" stroke-width="23.8"/></g>
<g filter="url(#bm)" stroke="#464646" style="mix-blend-mode:lighten"><polyline points="991.2,474.7 1004.1,459.2 1024.7,456.6" stroke-width="21.0"/>
<polyline points="828.0,521.2 833.2,510.9" stroke-width="18.2"/>
<polyline points="249.6,451.0 256.4,456.1 254.7,462.8" stroke-width="16.8"/>
<polyline points="254.7,413.3 270.0,416.7 290.3,418.7 305.6,421.3 315.8,429.8" stroke-width="11.2"/>
<polyline points="654.1,510.8 677.3,514.2" stroke-width="15.4"/>
<polyline points="1133.1,737.2 1156.4,737.2" stroke-width="9.8"/></g>
<g filter="url(#bm)" stroke="#494949" style="mix-blend-mode:lighten"><polyline points="1174.0,325.4 1191.7,323.9" stroke-width="10.4"/>
<polyline points="919.4,438.7 935.7,446.1 954.8,444.6" stroke-width="19.6"/>
<polyline points="1028.0,456.4 1042.7,459.4 1053.1,471.2 1061.9,487.4 1069.3,497.7 1076.7,505.0" stroke-width="19.6"/>
<polyline points="1175.5,380.5 1191.7,391.5 1207.9,385.6 1219.7,373.8" stroke-width="19.6"/>
<polyline points="857.5,533.8 870.8,525.6" stroke-width="10.4"/>
<polyline points="1064.9,505.0 1075.2,510.9 1079.6,522.7" stroke-width="18.2"/>
<polyline points="1166.7,621.8 1182.2,608.9 1200.2,605.0" stroke-width="15.4"/></g>
<g filter="url(#bm)" stroke="#4d4d4d" style="mix-blend-mode:lighten"><polyline points="990.2,590.5 1000.6,590.5" stroke-width="7.8"/>
<polyline points="285.2,445.9 289.5,461.1 290.3,476.4" stroke-width="18.2"/></g>
<g filter="url(#bm)" stroke="#535353" style="mix-blend-mode:lighten"><polyline points="1219.7,295.1 1223.4,315.8 1222.0,339.4" stroke-width="12.6"/></g>
<g filter="url(#bm)" stroke="#575757" style="mix-blend-mode:lighten"><polyline points="1071.2,130.2 1091.8,129.6" stroke-width="7.8"/>
<polyline points="884.0,484.5 897.3,490.4" stroke-width="11.7"/>
<polyline points="177.5,420.4 185.2,428.9" stroke-width="18.2"/>
<polyline points="252.2,455.2 255.6,458.6" stroke-width="7.8"/></g>
<g filter="url(#bm)" stroke="#5a5a5a" style="mix-blend-mode:lighten"><polyline points="1070.8,507.2 1075.9,512.4" stroke-width="9.1"/>
<polyline points="1163.0,534.5 1168.1,543.3" stroke-width="10.4"/>
<polyline points="827.0,510.8 834.8,504.4" stroke-width="10.4"/></g>
<g filter="url(#bm)" stroke="#5e5e5e" style="mix-blend-mode:lighten"><polyline points="1107.6,530.1 1119.4,523.4" stroke-width="10.4"/>
<polyline points="1185.8,606.0 1197.6,600.1" stroke-width="9.1"/></g>
<g filter="url(#bm)" stroke="#616161" style="mix-blend-mode:lighten"><polyline points="191.2,150.1 198.6,144.2" stroke-width="6.5"/>
<polyline points="1165.2,471.2 1172.5,478.6" stroke-width="10.4"/>
<polyline points="828.7,510.9 832.4,507.2" stroke-width="9.1"/></g>
<g filter="url(#bm)" stroke="#646464" style="mix-blend-mode:lighten"><polyline points="301.4,429.8 309.0,440.8 315.8,451.0" stroke-width="18.2"/>
<polyline points="303.9,451.0 309.0,466.2" stroke-width="16.8"/></g>
<g filter="url(#bm)" stroke="#6b6b6b" style="mix-blend-mode:lighten"><polyline points="1028.0,456.2 1036.8,457.2" stroke-width="10.4"/>
<polyline points="1219.7,435.8 1224.9,440.2" stroke-width="7.8"/>
<polyline points="281.9,420.8 297.1,423.5 309.0,431.0" stroke-width="7.8"/></g>
<g filter="url(#bm)" stroke="#727272" style="mix-blend-mode:lighten"><polyline points="765.1,492.8 785.7,504.4" stroke-width="11.7"/></g>
<g filter="url(#bm)" stroke="#757575" style="mix-blend-mode:lighten"><polyline points="931.2,431.4 937.1,446.9 944.5,446.1" stroke-width="9.1"/>
<polyline points="1061.9,490.4 1070.8,500.7" stroke-width="10.4"/>
<polyline points="292.0,462.8 291.2,476.4" stroke-width="10.4"/></g>
<g filter="url(#bm)" stroke="#7c7c7c" style="mix-blend-mode:lighten"><polyline points="186.8,154.5 195.6,146.4 203.0,140.5" stroke-width="11.7"/></g>
<g filter="url(#bm)" stroke="#808080" style="mix-blend-mode:lighten"><polyline points="177.5,424.7 181.8,428.9" stroke-width="9.1"/>
<polyline points="305.6,459.5 309.0,466.2" stroke-width="10.4"/></g>
<g filter="url(#bm)" stroke="#868686" style="mix-blend-mode:lighten"><polyline points="1011.8,459.2 1029.9,457.4" stroke-width="11.7"/></g>
<g filter="url(#bm)" stroke="#8d8d8d" style="mix-blend-mode:lighten"><polyline points="303.9,434.0 310.7,444.2 324.3,451.0" stroke-width="14.3"/></g>
<g filter="url(#bm)" stroke="#979797" style="mix-blend-mode:lighten"><polyline points="1185.8,388.6 1197.6,392.3" stroke-width="15.6"/></g>
<g filter="url(#bm)" stroke="#a2a2a2" style="mix-blend-mode:lighten"><polyline points="338.7,457.1 352.2,455.5" stroke-width="9.1"/></g>
<g filter="url(#bs)" stroke="#ececec" style="mix-blend-mode:lighten"><polygon points="305.9,445.9 319.2,440.5 327.6,445.9 339.2,457.1 339.2,461.1 313.2,461.1 309.0,454.4" fill="#ececec" stroke-width="1.5"/></g>
</g>
</g>

<!-- missing-data buffer along coast -->
<g fill="#fff" stroke="none" shape-rendering="crispEdges">
<polygon points="178.1,430.8 185.3,430.8 185.3,437.3 190.5,437.3 190.5,442.4 208.6,442.4 208.6,448.9 213.7,448.9 213.7,455.3 220.2,455.3 220.2,461.0 225.3,461.0 225.3,467.0 271.8,467.0 271.8,472.9 283.4,472.9 283.4,478.6 296.3,478.6 296.3,472.9 306.6,472.9 306.6,467.0 313.1,467.0 313.1,461.0 359.6,461.0 359.6,467.0 371.2,467.0 371.2,461.0 389.2,461.0 389.2,467.0 394.4,467.0 394.4,485.0 389.0,485.0 389.0,490.5 394.9,490.5 394.9,496.4 400.9,496.4 400.9,513.4 417.6,513.4 417.6,519.4 429.3,519.4 429.3,525.0 435.7,525.0 435.7,531.5 440.9,531.5 440.9,536.7 447.3,536.7 447.3,543.1 452.5,543.1 453.6,555.1 459.1,555.1 459.1,560.7 471.1,560.7 471.1,567.1 476.6,567.1 476.6,572.7 499.7,572.7 499.7,578.6 505.8,578.6 505.8,572.7 546.7,572.7 546.7,578.6 557.7,578.6 557.7,584.6 575.3,584.6 575.3,590.2 581.3,590.2 581.3,596.3 593.1,596.3 593.1,602.2 599.2,602.2 599.2,607.7 604.8,607.7 604.8,613.6 616.7,613.6 616.7,619.7 622.3,619.7 622.3,625.2 628.2,625.2 628.2,654.7 634.3,654.7 634.3,660.2 639.8,660.2 639.8,666.3 645.9,666.3 645.9,678.1 651.8,678.1 652.0,713.4 663.1,713.4 663.1,718.6 679.9,718.6 679.9,725.0 686.3,725.0 686.3,731.0 692.8,731.0 692.8,725.0 704.4,725.0 704.4,731.0 727.6,731.0 727.6,736.6 739.2,736.6 739.2,742.3 756.6,742.5 756.6,748.1 768.6,748.1 768.6,754.0 774.1,754.0 774.1,760.1 780.2,760.1 780.2,771.5 815.6,771.5 815.6,777.4 839.2,777.4 839.2,783.5 856.2,783.5 856.2,777.4 879.6,777.4 879.6,783.5 891.2,783.5 891.2,789.0 897.1,789.0 897.1,794.9 908.7,794.9 908.7,801.0 914.6,801.0 914.6,806.5 920.7,806.5 920.7,812.6 926.2,812.6 926.2,818.5 932.1,818.5 932.1,824.4 943.7,824.4 943.7,830.5 978.8,830.5 978.8,837.3 978.8,839.0 176.0,839.0 176.0,430.8"/>
<polygon points="175.8,257.9 190.6,257.9 190.6,264.0 208.2,264.0 208.2,269.9 213.9,269.9 213.9,275.9 219.9,275.9 219.9,293.9 213.9,293.9 213.9,299.8 202.1,299.8 202.1,293.9 175.8,293.9"/>
<polygon points="237.6,276.2 278.1,276.2 278.1,282.2 284.1,282.2 284.1,299.8 278.1,299.8 278.1,305.9 243.3,305.9 243.3,299.8 237.6,299.8 237.6,293.9 231.4,293.9 231.4,282.2 237.6,282.2"/>
</g>

<!-- land -->
<g fill="#808080" stroke="#000" stroke-width="1" stroke-linejoin="miter">
<polygon points="176.0,437.5 179.3,441.0 181.0,447.0 182.0,452.3 190.0,452.3 197.5,453.2 203.0,454.6 209.0,458.0 212.4,460.5 217.6,477.3 239.5,474.7 265.3,473.4 270.5,479.9 292.4,485.8 304.1,481.2 315.7,472.1 340.2,471.4 358.8,471.4 340.2,476.5 354.4,493.3 366.0,491.5 386.7,499.2 389.8,512.1 386.7,525.0 403.4,521.2 438.3,543.1 440.7,545.0 444.4,553.3 442.9,563.8 452.7,562.5 471.1,575.4 477.5,583.3 491.4,585.2 504.3,585.2 515.3,583.3 525.5,583.3 537.5,585.9 549.4,589.8 565.1,594.8 578.0,600.3 590.9,609.5 605.7,619.7 613.1,626.1 619.5,634.4 620.1,648.2 627.8,664.8 631.5,679.2 644.8,681.1 643.5,698.0 638.6,704.4 628.3,714.7 616.6,725.0 612.8,735.4 610.2,750.1 623.1,745.7 629.5,759.9 632.9,745.7 633.4,731.5 642.4,726.3 654.1,727.6 665.7,725.8 679.9,730.2 677.3,745.7 672.7,754.7 678.6,757.8 685.0,741.8 694.1,737.4 707.0,737.9 721.2,745.7 740.0,751.2 748.3,753.0 752.0,760.4 764.0,757.3 767.7,766.9 773.2,776.1 769.9,788.1 783.3,784.4 795.3,778.3 804.5,779.8 818.4,786.2 830.3,786.2 842.3,792.3 853.4,792.3 865.4,788.1 876.4,788.1 893.0,799.1 911.5,811.1 928.1,827.7 938.2,833.2 942.8,837.3 942.8,839.0 176.0,839.0 176.0,437.5"/>
<polygon points="175.8,257.0 178.1,257.0 182.0,265.1 195.4,265.1 185.8,270.9 205.0,274.7 215.1,284.8 206.9,295.0 198.8,286.7 188.2,286.7 178.1,289.6 175.8,289.6"/>
<polygon points="241.9,284.8 269.7,284.8 276.9,291.5 271.2,297.3 260.1,297.5 252.0,299.5 241.9,297.3"/>
<polygon points="373.2,472.1 386.2,470.1 386.7,482.4 380.2,487.6 366.5,487.6 374.3,482.4 375.1,474.7"/>
<polygon points="366.1,339.1 372.0,340.5 374.4,335.0 378.5,341.4 373.0,342.0 368.4,347.4"/>
</g>
<g fill="#000" stroke="#000" stroke-width="0.6">
<path d="M195.6 432.1 Q200 433.5 203.4 438.6 Q199 436.5 195.6 432.1Z"/>
<path d="M381.5 372.7 Q386 374.5 390.5 381.8 Q385 378.5 381.5 372.7Z"/>
</g>

<!-- grid -->
<g stroke="#000" stroke-width="1" stroke-dasharray="1 3" stroke-dashoffset="2" fill="none" shape-rendering="crispEdges">
<line x1="339.8" y1="128" x2="339.8" y2="837"/>
<line x1="549.7" y1="128" x2="549.7" y2="837"/>
<line x1="759.5" y1="128" x2="759.5" y2="837"/>
<line x1="969.5" y1="128" x2="969.5" y2="837"/>
<line x1="1180.2" y1="128" x2="1180.2" y2="837"/>
<line x1="178" y1="151.0" x2="1225" y2="151.0"/>
<line x1="178" y1="296.8" x2="1225" y2="296.8"/>
<line x1="178" y1="440.4" x2="1225" y2="440.4"/>
<line x1="178" y1="581.6" x2="1225" y2="581.6"/>
<line x1="178" y1="722.0" x2="1225" y2="722.0"/>
</g>
</g>

<!-- frame + ticks -->
<rect x="176" y="126" width="1051" height="713" fill="none" stroke="#000" stroke-width="4" stroke-linejoin="round"/>
<g stroke="#000" stroke-width="4" fill="none">
<line x1="339.8" y1="128" x2="339.8" y2="136.5"/>
<line x1="339.8" y1="837" x2="339.8" y2="828.5"/>
<line x1="549.7" y1="128" x2="549.7" y2="136.5"/>
<line x1="549.7" y1="837" x2="549.7" y2="828.5"/>
<line x1="759.5" y1="128" x2="759.5" y2="136.5"/>
<line x1="759.5" y1="837" x2="759.5" y2="828.5"/>
<line x1="969.5" y1="128" x2="969.5" y2="136.5"/>
<line x1="969.5" y1="837" x2="969.5" y2="828.5"/>
<line x1="1180.2" y1="128" x2="1180.2" y2="136.5"/>
<line x1="1180.2" y1="837" x2="1180.2" y2="828.5"/>
<line x1="178" y1="151.0" x2="186.5" y2="151.0"/>
<line x1="1225" y1="151.0" x2="1216.5" y2="151.0"/>
<line x1="178" y1="296.8" x2="186.5" y2="296.8"/>
<line x1="1225" y1="296.8" x2="1216.5" y2="296.8"/>
<line x1="178" y1="440.4" x2="186.5" y2="440.4"/>
<line x1="1225" y1="440.4" x2="1216.5" y2="440.4"/>
<line x1="178" y1="581.6" x2="186.5" y2="581.6"/>
<line x1="1225" y1="581.6" x2="1216.5" y2="581.6"/>
<line x1="178" y1="722.0" x2="186.5" y2="722.0"/>
<line x1="1225" y1="722.0" x2="1216.5" y2="722.0"/>
</g>

</svg>
<svg class="txt" width="1356" height="1000" viewBox="0 0 1356 1000">
<!-- axis labels -->
<g font-size="17.3" fill="#000">
<text x="340.9" y="861" text-anchor="middle">63<tspan dy="-8" font-size="13.5">o</tspan><tspan dy="8">W</tspan></text>
<text x="550.8" y="861" text-anchor="middle">54<tspan dy="-8" font-size="13.5">o</tspan><tspan dy="8">W</tspan></text>
<text x="760.6" y="861" text-anchor="middle">45<tspan dy="-8" font-size="13.5">o</tspan><tspan dy="8">W</tspan></text>
<text x="970.6" y="861" text-anchor="middle">36<tspan dy="-8" font-size="13.5">o</tspan><tspan dy="8">W</tspan></text>
<text x="1181.3" y="861" text-anchor="middle">27<tspan dy="-8" font-size="13.5">o</tspan><tspan dy="8">W</tspan></text>
<text x="171.0" y="160.0" text-anchor="end">24<tspan dy="-8" font-size="13.5">o</tspan><tspan dy="8">N</tspan></text>
<text x="171.0" y="305.8" text-anchor="end">18<tspan dy="-8" font-size="13.5">o</tspan><tspan dy="8">N</tspan></text>
<text x="171.0" y="449.4" text-anchor="end">12<tspan dy="-8" font-size="13.5">o</tspan><tspan dy="8">N</tspan></text>
<text x="171.0" y="590.6" text-anchor="end">6<tspan dy="-8" font-size="13.5">o</tspan><tspan dy="8">N</tspan></text>
<text x="165.8" y="731.0" text-anchor="end">0<tspan dy="-8" font-size="13.5">o</tspan></text>
</g>

<!-- titles -->
<text x="706.5" y="75.7" text-anchor="middle" font-size="31.4" font-weight="bold" fill="#000">AVHRR Sea Surface Temperature Gradient</text>
<text x="700.9" y="115.7" text-anchor="middle" font-size="24.7" font-weight="bold" fill="#000">2016-02-21</text>

<!-- colourbar -->
<g shape-rendering="crispEdges">
<rect x="177.50" y="880.5" width="8.90" height="19.0" fill="#3c3c3d"/>
<rect x="185.80" y="880.5" width="8.90" height="19.0" fill="#3b3c3e"/>
<rect x="194.09" y="880.5" width="8.90" height="19.0" fill="#3b3c40"/>
<rect x="202.39" y="880.5" width="8.90" height="19.0" fill="#3a3b41"/>
<rect x="210.69" y="880.5" width="8.90" height="19.0" fill="#393b43"/>
<rect x="218.98" y="880.5" width="8.90" height="19.0" fill="#393b44"/>
<rect x="227.28" y="880.5" width="8.90" height="19.0" fill="#383b47"/>
<rect x="235.58" y="880.5" width="8.90" height="19.0" fill="#373b49"/>
<rect x="243.88" y="880.5" width="8.90" height="19.0" fill="#363a4b"/>
<rect x="252.17" y="880.5" width="8.90" height="19.0" fill="#353a4d"/>
<rect x="260.47" y="880.5" width="8.90" height="19.0" fill="#343a50"/>
<rect x="268.77" y="880.5" width="8.90" height="19.0" fill="#333a52"/>
<rect x="277.06" y="880.5" width="8.90" height="19.0" fill="#323a54"/>
<rect x="285.36" y="880.5" width="8.90" height="19.0" fill="#313a56"/>
<rect x="293.66" y="880.5" width="8.90" height="19.0" fill="#303a59"/>
<rect x="301.95" y="880.5" width="8.90" height="19.0" fill="#2f3a5b"/>
<rect x="310.25" y="880.5" width="8.90" height="19.0" fill="#2d3a5d"/>
<rect x="318.55" y="880.5" width="8.90" height="19.0" fill="#2c3a5f"/>
<rect x="326.84" y="880.5" width="8.90" height="19.0" fill="#2b3a61"/>
<rect x="335.14" y="880.5" width="8.90" height="19.0" fill="#2a3a63"/>
<rect x="343.44" y="880.5" width="8.90" height="19.0" fill="#293a64"/>
<rect x="351.73" y="880.5" width="8.90" height="19.0" fill="#283a67"/>
<rect x="360.03" y="880.5" width="8.90" height="19.0" fill="#2b3d6a"/>
<rect x="368.33" y="880.5" width="8.90" height="19.0" fill="#2e406d"/>
<rect x="376.62" y="880.5" width="8.90" height="19.0" fill="#304271"/>
<rect x="384.92" y="880.5" width="8.90" height="19.0" fill="#334574"/>
<rect x="393.22" y="880.5" width="8.90" height="19.0" fill="#364877"/>
<rect x="401.52" y="880.5" width="8.90" height="19.0" fill="#394a7b"/>
<rect x="409.81" y="880.5" width="8.90" height="19.0" fill="#3c4d7e"/>
<rect x="418.11" y="880.5" width="8.90" height="19.0" fill="#3f4f82"/>
<rect x="426.41" y="880.5" width="8.90" height="19.0" fill="#425285"/>
<rect x="434.70" y="880.5" width="8.90" height="19.0" fill="#445588"/>
<rect x="443.00" y="880.5" width="8.90" height="19.0" fill="#47578b"/>
<rect x="451.30" y="880.5" width="8.90" height="19.0" fill="#4a5a8e"/>
<rect x="459.59" y="880.5" width="8.90" height="19.0" fill="#4d5d90"/>
<rect x="467.89" y="880.5" width="8.90" height="19.0" fill="#4f6093"/>
<rect x="476.19" y="880.5" width="8.90" height="19.0" fill="#526395"/>
<rect x="484.48" y="880.5" width="8.90" height="19.0" fill="#546597"/>
<rect x="492.78" y="880.5" width="8.90" height="19.0" fill="#57689a"/>
<rect x="501.08" y="880.5" width="8.90" height="19.0" fill="#5a6b9c"/>
<rect x="509.38" y="880.5" width="8.90" height="19.0" fill="#5c6e9f"/>
<rect x="517.67" y="880.5" width="8.90" height="19.0" fill="#5f71a1"/>
<rect x="525.97" y="880.5" width="8.90" height="19.0" fill="#6274a4"/>
<rect x="534.27" y="880.5" width="8.90" height="19.0" fill="#6779a8"/>
<rect x="542.56" y="880.5" width="8.90" height="19.0" fill="#6d7fad"/>
<rect x="550.86" y="880.5" width="8.90" height="19.0" fill="#7486b2"/>
<rect x="559.16" y="880.5" width="8.90" height="19.0" fill="#7c8eb9"/>
<rect x="567.45" y="880.5" width="8.90" height="19.0" fill="#8496c0"/>
<rect x="575.75" y="880.5" width="8.90" height="19.0" fill="#8d9fc8"/>
<rect x="584.05" y="880.5" width="8.90" height="19.0" fill="#97a9d0"/>
<rect x="592.34" y="880.5" width="8.90" height="19.0" fill="#a3b5db"/>
<rect x="600.64" y="880.5" width="8.90" height="19.0" fill="#b0c2e5"/>
<rect x="608.94" y="880.5" width="8.90" height="19.0" fill="#bcceee"/>
<rect x="617.23" y="880.5" width="8.90" height="19.0" fill="#c7d9f6"/>
<rect x="625.53" y="880.5" width="8.90" height="19.0" fill="#cddef3"/>
<rect x="633.83" y="880.5" width="8.90" height="19.0" fill="#d4e4f1"/>
<rect x="642.12" y="880.5" width="8.90" height="19.0" fill="#d8e7ed"/>
<rect x="650.42" y="880.5" width="8.90" height="19.0" fill="#dce9e9"/>
<rect x="658.72" y="880.5" width="8.90" height="19.0" fill="#dfebe5"/>
<rect x="667.02" y="880.5" width="8.90" height="19.0" fill="#e3ece5"/>
<rect x="675.31" y="880.5" width="8.90" height="19.0" fill="#e6ede7"/>
<rect x="683.61" y="880.5" width="8.90" height="19.0" fill="#e9eee8"/>
<rect x="691.91" y="880.5" width="8.90" height="19.0" fill="#ecefea"/>
<rect x="700.20" y="880.5" width="8.90" height="19.0" fill="#eff0ed"/>
<rect x="708.50" y="880.5" width="8.90" height="19.0" fill="#f1f0ea"/>
<rect x="716.80" y="880.5" width="8.90" height="19.0" fill="#f4efe3"/>
<rect x="725.09" y="880.5" width="8.90" height="19.0" fill="#f7eedc"/>
<rect x="733.39" y="880.5" width="8.90" height="19.0" fill="#f9edd6"/>
<rect x="741.69" y="880.5" width="8.90" height="19.0" fill="#fbebd0"/>
<rect x="749.98" y="880.5" width="8.90" height="19.0" fill="#fce9cc"/>
<rect x="758.28" y="880.5" width="8.90" height="19.0" fill="#fae7d0"/>
<rect x="766.58" y="880.5" width="8.90" height="19.0" fill="#f8e5d4"/>
<rect x="774.88" y="880.5" width="8.90" height="19.0" fill="#f5e3d8"/>
<rect x="783.17" y="880.5" width="8.90" height="19.0" fill="#f3e0da"/>
<rect x="791.47" y="880.5" width="8.90" height="19.0" fill="#f0dedd"/>
<rect x="799.77" y="880.5" width="8.90" height="19.0" fill="#eed5c6"/>
<rect x="808.06" y="880.5" width="8.90" height="19.0" fill="#edcbaf"/>
<rect x="816.36" y="880.5" width="8.90" height="19.0" fill="#ebc09b"/>
<rect x="824.66" y="880.5" width="8.90" height="19.0" fill="#e9b588"/>
<rect x="832.95" y="880.5" width="8.90" height="19.0" fill="#e7ac75"/>
<rect x="841.25" y="880.5" width="8.90" height="19.0" fill="#e7a663"/>
<rect x="849.55" y="880.5" width="8.90" height="19.0" fill="#e59f4e"/>
<rect x="857.84" y="880.5" width="8.90" height="19.0" fill="#e49738"/>
<rect x="866.14" y="880.5" width="8.90" height="19.0" fill="#e38f22"/>
<rect x="874.44" y="880.5" width="8.90" height="19.0" fill="#e18510"/>
<rect x="882.73" y="880.5" width="8.90" height="19.0" fill="#e07b00"/>
<rect x="891.03" y="880.5" width="8.90" height="19.0" fill="#e27500"/>
<rect x="899.33" y="880.5" width="8.90" height="19.0" fill="#e36f00"/>
<rect x="907.62" y="880.5" width="8.90" height="19.0" fill="#e56900"/>
<rect x="915.92" y="880.5" width="8.90" height="19.0" fill="#e66300"/>
<rect x="924.22" y="880.5" width="8.90" height="19.0" fill="#e85d00"/>
<rect x="932.52" y="880.5" width="8.90" height="19.0" fill="#e95700"/>
<rect x="940.81" y="880.5" width="8.90" height="19.0" fill="#eb5100"/>
<rect x="949.11" y="880.5" width="8.90" height="19.0" fill="#ec4b00"/>
<rect x="957.41" y="880.5" width="8.90" height="19.0" fill="#ee4500"/>
<rect x="965.70" y="880.5" width="8.90" height="19.0" fill="#ef3f00"/>
<rect x="974.00" y="880.5" width="8.90" height="19.0" fill="#f13900"/>
<rect x="982.30" y="880.5" width="8.90" height="19.0" fill="#f23300"/>
<rect x="990.59" y="880.5" width="8.90" height="19.0" fill="#f42d00"/>
<rect x="998.89" y="880.5" width="8.90" height="19.0" fill="#f52700"/>
<rect x="1007.19" y="880.5" width="8.90" height="19.0" fill="#f72100"/>
<rect x="1015.48" y="880.5" width="8.90" height="19.0" fill="#f81b00"/>
<rect x="1023.78" y="880.5" width="8.90" height="19.0" fill="#fa1600"/>
<rect x="1032.08" y="880.5" width="8.90" height="19.0" fill="#fb1100"/>
<rect x="1040.38" y="880.5" width="8.90" height="19.0" fill="#fc0b00"/>
<rect x="1048.67" y="880.5" width="8.90" height="19.0" fill="#fd0600"/>
<rect x="1056.97" y="880.5" width="8.90" height="19.0" fill="#ff0100"/>
<rect x="1065.27" y="880.5" width="8.90" height="19.0" fill="#fb0102"/>
<rect x="1073.56" y="880.5" width="8.90" height="19.0" fill="#f70104"/>
<rect x="1081.86" y="880.5" width="8.90" height="19.0" fill="#f30206"/>
<rect x="1090.16" y="880.5" width="8.90" height="19.0" fill="#ee0309"/>
<rect x="1098.45" y="880.5" width="8.90" height="19.0" fill="#ea040b"/>
<rect x="1106.75" y="880.5" width="8.90" height="19.0" fill="#e6040d"/>
<rect x="1115.05" y="880.5" width="8.90" height="19.0" fill="#e1050f"/>
<rect x="1123.34" y="880.5" width="8.90" height="19.0" fill="#dd0612"/>
<rect x="1131.64" y="880.5" width="8.90" height="19.0" fill="#d80714"/>
<rect x="1139.94" y="880.5" width="8.90" height="19.0" fill="#d40716"/>
<rect x="1148.23" y="880.5" width="8.90" height="19.0" fill="#cf0818"/>
<rect x="1156.53" y="880.5" width="8.90" height="19.0" fill="#cb091b"/>
<rect x="1164.83" y="880.5" width="8.90" height="19.0" fill="#c60a1e"/>
<rect x="1173.12" y="880.5" width="8.90" height="19.0" fill="#c20c20"/>
<rect x="1181.42" y="880.5" width="8.90" height="19.0" fill="#bd0d23"/>
<rect x="1189.72" y="880.5" width="8.90" height="19.0" fill="#b90e26"/>
<rect x="1198.02" y="880.5" width="8.90" height="19.0" fill="#b40f28"/>
<rect x="1206.31" y="880.5" width="8.90" height="19.0" fill="#b0102a"/>
<rect x="1214.61" y="880.5" width="8.90" height="19.0" fill="#ab112c"/>
<rect x="1222.91" y="880.5" width="8.90" height="19.0" fill="#a7122f"/>
<rect x="1231.20" y="880.5" width="8.90" height="19.0" fill="#a21331"/>
</g>
<rect x="177.5" y="880.5" width="1062" height="19" fill="none" stroke="#262626" stroke-width="1"/>
<g stroke="#262626" stroke-width="1" shape-rendering="crispEdges">
<line x1="354.5" y1="889" x2="354.5" y2="899.5"/>
<line x1="531.5" y1="889" x2="531.5" y2="899.5"/>
<line x1="708.5" y1="889" x2="708.5" y2="899.5"/>
<line x1="885.5" y1="889" x2="885.5" y2="899.5"/>
<line x1="1062.5" y1="889" x2="1062.5" y2="899.5"/>
</g>
<g font-size="17.3" fill="#262626">
<text x="177.0" y="924.2" text-anchor="middle">-0.03</text>
<text x="354.0" y="924.2" text-anchor="middle">-0.02</text>
<text x="531.0" y="924.2" text-anchor="middle">-0.01</text>
<text x="708.7" y="924.2" text-anchor="middle">0</text>
<text x="885.7" y="924.2" text-anchor="middle">0.01</text>
<text x="1062.7" y="924.2" text-anchor="middle">0.02</text>
<text x="1239.7" y="924.2" text-anchor="middle">0.03</text>
<text x="709" y="948" text-anchor="middle" font-size="17.2"><tspan font-size="14.5" dy="-1.5" fill="#555">&#176;</tspan><tspan dy="1.5">C/km</tspan></text>
</g>
</svg>
</body>
</html>
